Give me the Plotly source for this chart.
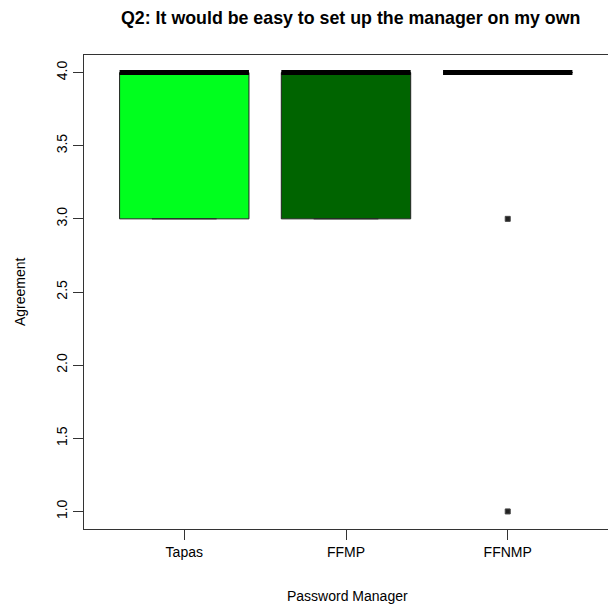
import plotly.graph_objects as go

# Box statistics per password manager (Likert agreement scores)
categories = ["Tapas", "FFMP", "FFNMP"]
q1 = [3, 3, 4]
medians = [4, 4, 4]
q3 = [4, 4, 4]
lower_whisker = [3, 3, 4]
upper_whisker = [4, 4, 4]
box_colors = ["#00ff1e", "#006400", "#ffffff"]

# Outlying responses
outlier_groups = ["FFNMP", "FFNMP"]
outlier_values = [3, 1]

y_ticks = [1.0, 1.5, 2.0, 2.5, 3.0, 3.5, 4.0]

FONT = "Liberation Sans, Arial, Helvetica, sans-serif"
BOX_WIDTH = 0.8

positions = list(range(1, len(categories) + 1))

fig = go.Figure()

for i, cat in enumerate(categories):
    fig.add_trace(go.Box(
        x=[positions[i]],
        q1=[q1[i]], median=[medians[i]], q3=[q3[i]],
        lowerfence=[lower_whisker[i]], upperfence=[upper_whisker[i]],
        width=BOX_WIDTH,
        fillcolor=box_colors[i],
        line=dict(color="#222222", width=1),
        whiskerwidth=0.5,
        showlegend=False,
        hoverinfo="skip",
    ))
    # thick median bar, as in base-R boxplots
    fig.add_trace(go.Scatter(
        x=[positions[i] - BOX_WIDTH / 2, positions[i] + BOX_WIDTH / 2],
        y=[medians[i], medians[i]],
        mode="lines",
        line=dict(color="#000000", width=5),
        showlegend=False,
        hoverinfo="skip",
    ))

fig.add_trace(go.Scatter(
    x=[positions[categories.index(g)] for g in outlier_groups],
    y=outlier_values,
    mode="markers",
    marker=dict(symbol="square", size=5, color="#222222",
                line=dict(color="#444444", width=1)),
    showlegend=False,
    hoverinfo="skip",
))

fig.update_layout(
    width=608, height=608,
    margin=dict(l=84, r=0, t=55, b=79),
    paper_bgcolor="white", plot_bgcolor="white",
    font=dict(family=FONT, size=14, color="#000000"),
    xaxis=dict(
        range=[0.38, 3.62],
        tickmode="array", tickvals=positions, ticktext=categories,
        showline=True, linecolor="#333333", linewidth=1, mirror=True,
        ticks="outside", ticklen=10, tickcolor="#333333",
        showgrid=False, zeroline=False,
        tickfont=dict(size=14),
    ),
    yaxis=dict(
        range=[0.88, 4.12],
        tickmode="array", tickvals=y_ticks,
        ticktext=[f"{v:.1f}" for v in y_ticks],
        tickangle=-90,
        showline=True, linecolor="#333333", linewidth=1,
        ticks="outside", ticklen=10, tickcolor="#333333",
        showgrid=False, zeroline=False,
        tickfont=dict(size=14),
    ),
    annotations=[
        dict(text="<b>Q2: It would be easy to set up the manager on my own</b>",
             showarrow=False, font=dict(size=17.8)),
        dict(text="Password Manager", showarrow=False,
             font=dict(size=14)),
        dict(text="Agreement", textangle=-90, showarrow=False,
             font=dict(size=14)),
    ],
)

# place text annotations in pixel terms of the page
plot_w = 608 - 84 - 0
plot_h = 608 - 55 - 79


def px_to_paper(px, py):
    return (px - 84) / plot_w, 1 - (py - 55) / plot_h


anns = list(fig.layout.annotations)
for ann, (px, py) in zip(anns, [(350, 18), (347, 596), (20, 292)]):
    ax, ay = px_to_paper(px, py)
    ann.x = ax
    ann.y = ay
    ann.xref = "paper"
    ann.yref = "paper"
    ann.xanchor = "center"
    ann.yanchor = "middle"
fig.layout.annotations = anns

fig.write_html("out.html")
